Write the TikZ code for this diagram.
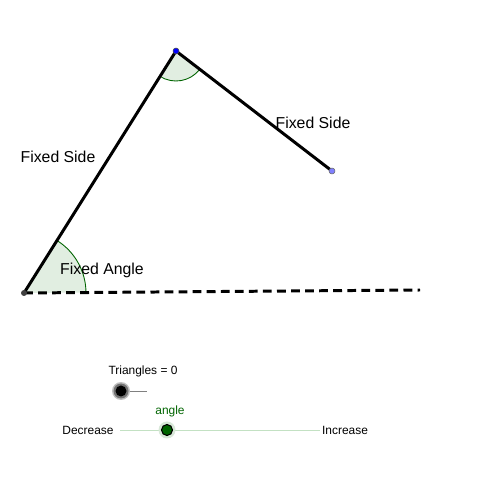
\documentclass[tikz,border=0pt]{standalone}
\usepackage{fontspec}
\setmainfont{Liberation Sans}
\definecolor{anglegreen}{RGB}{0,100,0}
\definecolor{anglefill}{RGB}{225,238,225}
\definecolor{sliderline}{RGB}{195,225,195}
\definecolor{freeblue}{RGB}{128,128,255}
\tikzset{
  side/.style={line width=1.7pt},
  ray/.style={line width=1.7pt,dash pattern=on 5pt off 3pt},
  anglearc/.style={fill=anglefill,draw=anglegreen,line width=0.5pt},
  label/.style={font=\fontsize{9}{10}\selectfont,inner sep=0pt},
  small/.style={font=\fontsize{6.8}{8}\selectfont,inner sep=0pt}
}
\begin{document}
\begin{tikzpicture}[x=0.02cm,y=0.02cm]
\useasboundingbox (0,0) rectangle (500,500);

\coordinate (A) at (24,207);
\coordinate (B) at (176,449);
\coordinate (C) at (332,329);
\coordinate (D) at (420,210);

% angles
\fill[anglefill] (A) -- ++(0.4:62) arc[start angle=0.4, end angle=57.9, radius=62] -- cycle;
\draw[anglegreen,line width=0.5pt] (A) ++(0.4:62) arc[start angle=0.4, end angle=57.9, radius=62];
\fill[anglefill] (B) -- ++(237.9:30) arc[start angle=237.9, end angle=322.4, radius=30] -- cycle;
\draw[anglegreen,line width=0.5pt] (B) ++(237.9:30) arc[start angle=237.9, end angle=322.4, radius=30];

% sides
\draw[ray] (A) -- (D);
\draw[side] (A) -- (B);
\draw[side] (B) -- (C);

% points
\fill[black!75] (A) circle[radius=3];
\filldraw[fill=blue,draw=black!70,line width=0.3pt] (B) circle[radius=3];
\filldraw[fill=freeblue,draw=black!60,line width=0.3pt] (C) circle[radius=3];

\node[label] (sideAB) at (58,343) {Fixed Side};
\node[label] (sideBC) at (313,377) {Fixed Side};
\node[label] (angA) at (102,230) {Fixed Angle};

% sliders
\node[small] (tri) at (143,129) {Triangles = 0};
\coordinate (triEnd) at (147,109);
\coordinate (triKnob) at (121,109);
\draw[black!50,line width=0.4pt] (triKnob) -- (triEnd);
\fill[black!25] (triKnob) circle[radius=9];
\fill[black!55] (triKnob) circle[radius=7.5];
\fill[black] (triKnob) circle[radius=5.5];

\node[small,text=anglegreen] (angname) at (170,89) {angle};
\coordinate (slideL) at (120,70);
\coordinate (slideR) at (320,70);
\coordinate (knob) at (167,70);
\draw[sliderline,line width=0.5pt] (slideL) -- (slideR);
\fill[anglefill!70!anglegreen!40] (knob) circle[radius=8.5];
\filldraw[fill=anglegreen,draw=black,line width=0.6pt] (knob) circle[radius=5.5];
\node[small] (dec) at (88,70) {Decrease};
\node[small] (inc) at (345,70) {Increase};
\end{tikzpicture}
\end{document}
